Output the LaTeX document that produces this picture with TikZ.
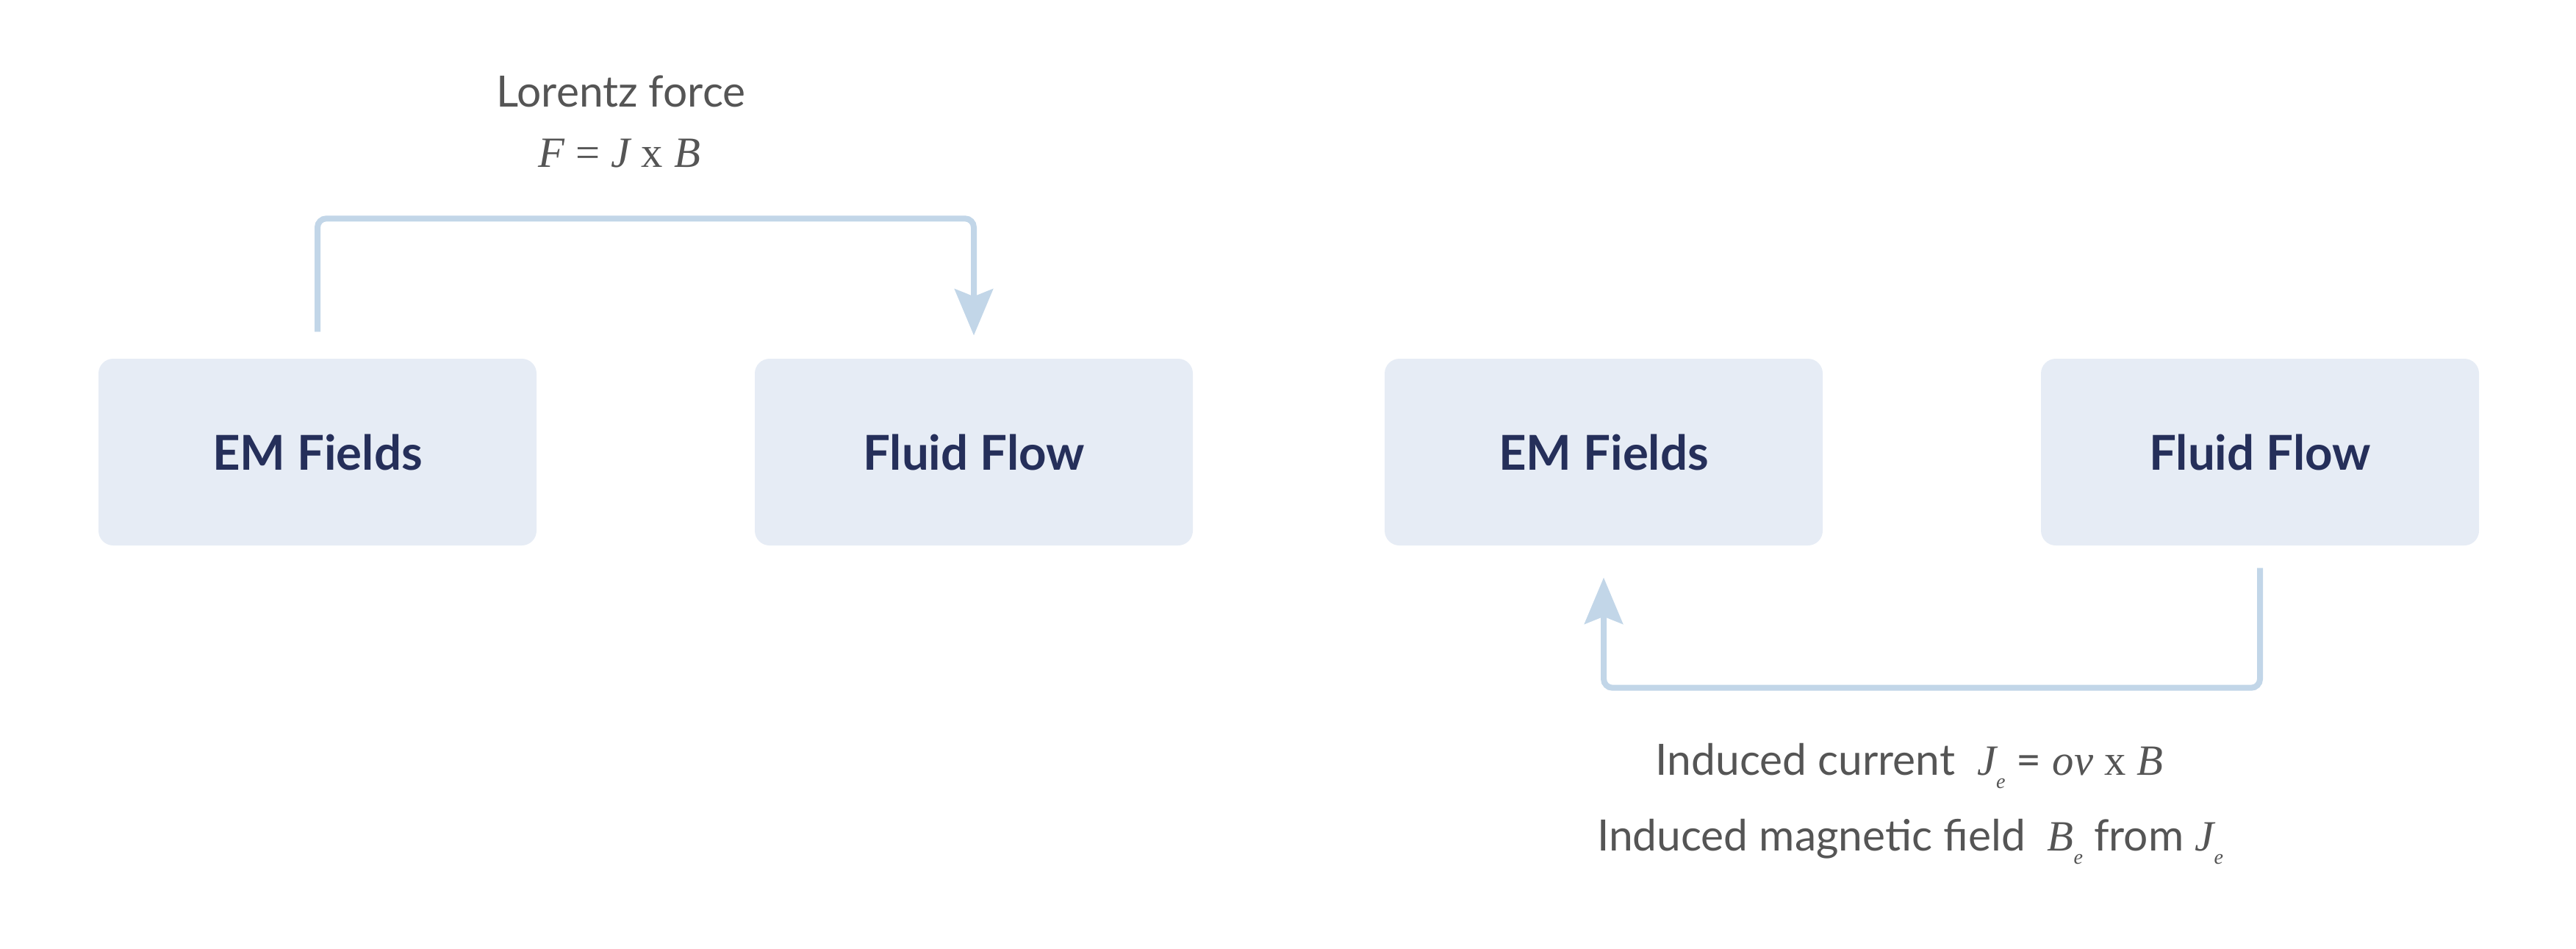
\documentclass[tikz,border=0pt]{standalone}
\usepackage{fontspec}
\setmainfont{Lato}
\newfontfamily\eqfont{Liberation Serif}
\usepackage{tikz}
\usetikzlibrary{arrows.meta}
\definecolor{boxfill}{RGB}{230,236,245}
\definecolor{boxtext}{RGB}{37,47,90}
\definecolor{linkblue}{RGB}{194,214,232}
\definecolor{notegray}{RGB}{85,85,85}
\tikzstyle{field} = [rectangle, rounded corners=0.2cm, minimum width=5.96cm, minimum height=2.54cm, text centered, fill=boxfill, text=boxtext, font=\fontsize{18.6}{22}\selectfont\bfseries]
\tikzstyle{note} = [anchor=base, inner sep=0pt, text=notegray, font=\fontsize{16.7}{20}\selectfont]
\tikzstyle{arrow} = [line width=0.08cm, draw=linkblue, rounded corners=0.12cm, -{Stealth[length=6.3mm, width=5.2mm, inset=1mm]}]
\newcommand{\ital}[1]{{\eqfont\itshape #1}}
\newcommand{\lowe}{\raisebox{-1.8mm}{\fontsize{8}{8}\selectfont\eqfont\itshape e}}

\begin{document}
\begin{tikzpicture}[node distance=8.93cm]
	\useasboundingbox (0,0) rectangle (35.05,-12.90);

	\node (emA) [field] at (4.32,-6.15) {EM Fields};
	\node (flowA) [field, right of=emA] {Fluid Flow};
	\node (emB) [field, right of=flowA, xshift=-0.36cm] {EM Fields};
	\node (flowB) [field, right of=emB] {Fluid Flow};

	\node (lorentz) [note] at (8.45,-1.45) {Lorentz force};
	\node (lorentzeq) [note] at (8.43,-2.27) {\ital{F} {\eqfont =} \ital{J} {\eqfont x} \ital{B}};
	\node (induced) [note] at (25.98,-10.54) {Induced current\ \ \ital{J}\lowe{} = \ital{ov} {\eqfont x} \ital{B}};
	\node (inducedB) [note] at (25.99,-11.57) {Induced magnetic field\ \ \ital{B}\lowe{} from \ital{J}\lowe};

	\draw [arrow, shorten <=3.6mm, shorten >=3.1mm] (emA.north) -- ++(0,1.90) -| (flowA.north);
	\draw [arrow, shorten <=3mm, shorten >=4.3mm] (flowB.south) -- ++(0,-1.93) -| (emB.south);

\end{tikzpicture}
\end{document}
